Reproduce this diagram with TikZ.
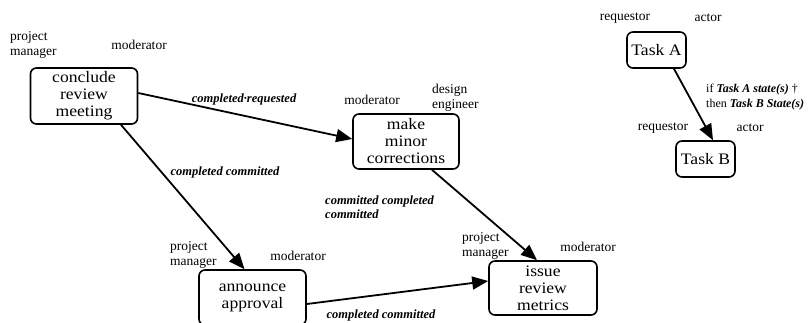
\documentclass[tikz,border=0pt]{standalone}
\usepackage{fontspec}
\setmainfont{Liberation Serif}
\newfontfamily\boxfont[FakeStretch=1.1]{Liberation Serif}
\usetikzlibrary{arrows.meta}

\tikzset{
  task/.style={draw, line width=1.6pt, rounded corners=6pt, inner sep=0pt,
    align=center, font=\boxfont\fontsize{16}{17}\selectfont},
  role/.style={inner sep=0pt, align=left, font=\fontsize{13.5}{15}\selectfont},
  state/.style={inner sep=0pt, align=left, font=\bfseries\itshape\fontsize{12.5}{14}\selectfont},
  flow/.style={line width=1.8pt, -{Triangle[length=16pt,width=13pt]}}
}

\begin{document}
\begin{tikzpicture}[x=1pt, y=-1pt]
  \useasboundingbox (0,0) rectangle (812,322);
  \clip (0,0) rectangle (812,322);

  % activity boxes
  \node[task, minimum width=107pt, minimum height=56pt] (concl) at (84,96) {conclude\\review\\meeting};
  \node[task, minimum width=106pt, minimum height=55pt] (minor) at (406,141.5) {make\\minor\\corrections};
  \node[task, minimum width=107pt, minimum height=55pt] (announce) at (252.5,297.5) {announce\\approval};
  \node[task, minimum width=108pt, minimum height=54pt] (issue) at (543,288) {issue\\review\\metrics};
  \node[task, minimum width=59pt, minimum height=36pt] (taskA) at (656.5,50) {Task A};
  \node[task, minimum width=59pt, minimum height=36pt] (taskB) at (705.5,159) {Task B};

  % roles attached to each activity
  \node[role, anchor=west] (pm1) at (10,45) {project\\manager};
  \node[role] (mod1) at (139,45) {moderator};
  \node[role] (mod2) at (372,100) {moderator};
  \node[role, anchor=west] (de2) at (432,98) {design\\engineer};
  \node[role, anchor=west] (pm3) at (170,255) {project\\manager};
  \node[role] (mod3) at (298,256) {moderator};
  \node[role, anchor=west] (pm4) at (462,246) {project\\manager};
  \node[role] (mod4) at (588,247) {moderator};
  \node[role] (reqA) at (625,18) {requestor};
  \node[role] (actA) at (708,18) {actor};
  \node[role] (reqB) at (663,128) {requestor};
  \node[role] (actB) at (750,128) {actor};

  % dependencies
  \draw[flow] ([yshift=3pt]concl.east) -- ([yshift=2.5pt]minor.west);
  \draw[flow] ([xshift=37pt]concl.south) -- ([xshift=-8pt]announce.north);
  \draw[flow] ([xshift=26pt]minor.south) -- ([xshift=-6pt]issue.north);
  \draw[flow] ([yshift=-6.5pt]announce.east) -- ([yshift=7pt]issue.west);
  \draw[flow] ([xshift=17.5pt]taskA.south) -- ([xshift=7.5pt]taskB.north);

  % state labels on the dependencies
  \node[state] (s1) at (244,99) {completed·requested};
  \node[state] (s2) at (225,172) {completed committed};
  \node[state, anchor=west] (s3) at (325,207) {committed completed\\committed};
  \node[state] (s4) at (381,315) {completed committed};
  \node[role, anchor=west, font=\fontsize{12}{15}\selectfont] (cond) at (706,97)
    {if \textbf{\textit{Task A state(s)}} †\\then \textbf{\textit{Task B State(s)}}};
\end{tikzpicture}
\end{document}
